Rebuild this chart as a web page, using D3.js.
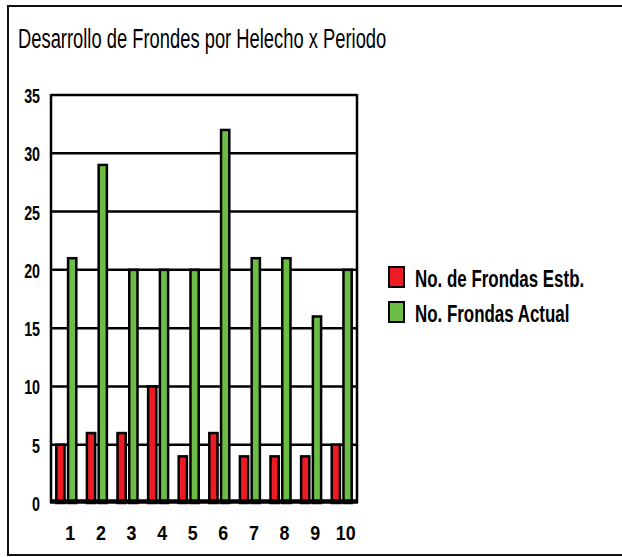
<!DOCTYPE html>
<html>
<head>
<meta charset="utf-8">
<script src="https://cdn.jsdelivr.net/npm/d3@7"></script>
<style>
  html, body { margin: 0; padding: 0; background: #fff; }
  svg { display: block; }
  text { font-family: "Liberation Sans", Arial, sans-serif; fill: #000; }
</style>
</head>
<body>
<svg id="chart" width="622" height="557"></svg>
<script>
const title = "Desarrollo de Frondes por Helecho x Periodo";
const categories = ["1", "2", "3", "4", "5", "6", "7", "8", "9", "10"];
const seriesNames = ["No. de Frondas Estb.", "No. Frondas Actual"];
const frondasEstb = [5, 6, 6, 10, 4, 6, 4, 4, 4, 5];
const frondasActual = [21, 29, 20, 20, 20, 32, 21, 21, 16, 20];
const yTicks = [0, 5, 10, 15, 20, 25, 30, 35];
const colors = ["#ed1c24", "#6cbd45"];

const svg = d3.select("#chart");
const W = 622, H = 557;
const plot = { left: 51, right: 357, top: 95, zero: 503 };

// outer border (open on the right)
const border = svg.append("g").attr("stroke", "#111").attr("stroke-width", 2).attr("fill", "none");
border.append("line").attr("x1", 7).attr("x2", W).attr("y1", 6).attr("y2", 6);
border.append("line").attr("x1", 8).attr("x2", 8).attr("y1", 5).attr("y2", 556);
border.append("line").attr("x1", 7).attr("x2", W).attr("y1", 555).attr("y2", 555);

// title
svg.append("text")
  .attr("transform", "translate(18,48) scale(0.68,1)")
  .attr("font-size", 27)
  .text(title);

const x0 = d3.scaleBand().domain(categories).range([plot.left, plot.right]).padding(0);
const x1 = d3.scaleBand().domain(seriesNames).range([5.3, 25.3]).paddingInner(0.3);
const y = d3.scaleLinear().domain([0, 35]).range([plot.zero, plot.top]);

// grid lines
svg.append("g").selectAll("line").data(yTicks.filter(d => d > 0 && d < 35)).join("line")
  .attr("x1", plot.left).attr("x2", plot.right)
  .attr("y1", d => y(d)).attr("y2", d => y(d))
  .attr("stroke", "#000").attr("stroke-width", 2.5);

// bars
const data = categories.map((c, i) => ({ cat: c, values: [frondasEstb[i], frondasActual[i]] }));
const groups = svg.append("g").selectAll("g").data(data).join("g")
  .attr("transform", d => `translate(${x0(d.cat)},0)`);
groups.selectAll("rect").data(d => d.values.map((v, k) => ({ k, v }))).join("rect")
  .attr("x", d => x1(seriesNames[d.k]))
  .attr("width", x1.bandwidth())
  .attr("y", d => y(d.v))
  .attr("height", d => y(0) - y(d.v))
  .attr("fill", d => colors[d.k])
  .attr("stroke", "#000").attr("stroke-width", 2.5);

// frame
const frame = svg.append("g").attr("stroke", "#000").attr("fill", "none");
frame.append("line").attr("x1", plot.left).attr("x2", plot.left).attr("y1", y(35) - 1).attr("y2", plot.zero).attr("stroke-width", 2.5);
frame.append("line").attr("x1", plot.right).attr("x2", plot.right).attr("y1", y(35) - 1).attr("y2", plot.zero).attr("stroke-width", 2.5);
frame.append("line").attr("x1", plot.left).attr("x2", plot.right).attr("y1", y(35)).attr("y2", y(35)).attr("stroke-width", 2.5);
frame.append("line").attr("x1", plot.left - 1).attr("x2", plot.right + 1).attr("y1", y(0) - 1.5).attr("y2", y(0) - 1.5).attr("stroke-width", 4.5);

// y axis labels
const yAxis = d3.axisLeft(y).tickValues(yTicks).tickSize(0).tickPadding(0);
const yg = svg.append("g").attr("transform", "translate(40,0)").call(yAxis);
yg.select(".domain").remove();
yg.selectAll(".tick text")
  .attr("x", 0).attr("dy", "0.36em")
  .attr("font-size", 21).attr("font-weight", "bold")
  .attr("font-family", "'Liberation Sans', Arial, sans-serif")
  .attr("transform", "scale(0.68,1)")
  .attr("text-anchor", "end");

// x axis labels
const xAxis = d3.axisBottom(x0).tickSize(0).tickPadding(0);
const xg = svg.append("g").attr("transform", "translate(4,540)").call(xAxis);
xg.select(".domain").remove();
xg.selectAll(".tick text")
  .attr("y", 0).attr("dy", 0)
  .attr("font-size", 21).attr("font-weight", "bold")
  .attr("font-family", "'Liberation Sans', Arial, sans-serif")
  .attr("transform", "scale(0.85,1)")
  .attr("text-anchor", "middle");

// legend
const legend = svg.append("g").selectAll("g").data(seriesNames).join("g")
  .attr("transform", (d, i) => `translate(389,${267 + i * 35})`);
legend.append("rect")
  .attr("width", 15).attr("height", 20)
  .attr("fill", (d, i) => colors[i])
  .attr("stroke", "#000").attr("stroke-width", 2);
legend.append("text")
  .attr("transform", "translate(26,20) scale(0.72,1)")
  .attr("font-size", 23.5).attr("font-weight", "bold")
  .text(d => d);
</script>
</body>
</html>
